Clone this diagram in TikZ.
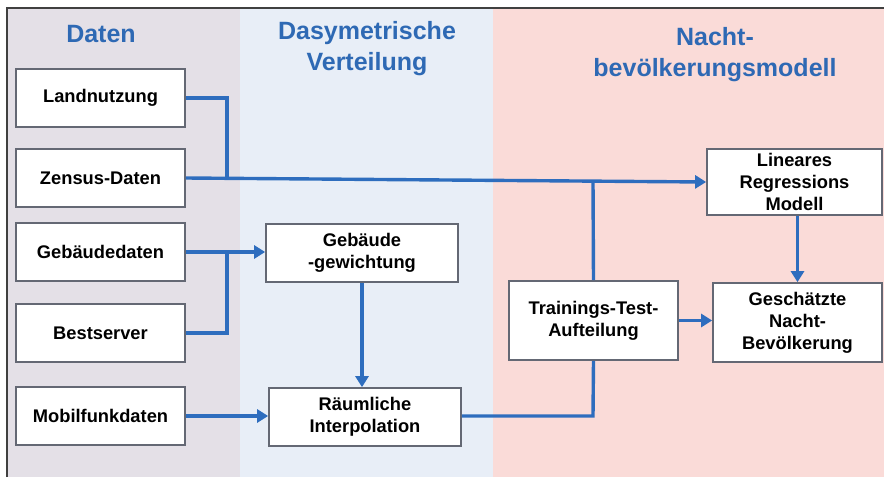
\documentclass[tikz,border=0pt]{standalone}
\usepackage{fontspec}
\setmainfont{Liberation Sans}
\usetikzlibrary{arrows.meta}
\definecolor{colA}{RGB}{228,224,231}
\definecolor{colB}{RGB}{232,238,247}
\definecolor{colC}{RGB}{250,219,216}
\definecolor{titleblue}{RGB}{46,105,180}
\definecolor{lineblue}{RGB}{46,109,190}
\definecolor{boxgray}{RGB}{100,104,116}
\tikzset{
  box/.style={draw=boxgray, line width=1.7pt, fill=white, align=center,
    font=\fontsize{18.3}{22}\selectfont\bfseries, inner sep=0pt},
  coltitle/.style={align=center, text=titleblue,
    font=\fontsize{25}{31}\selectfont\bfseries},
  conn/.style={draw=lineblue, line width=3.4pt},
  arr/.style={conn, -{Triangle[length=11pt,width=13pt]}},
}
\begin{document}
\begin{tikzpicture}[x=1pt,y=-1pt]
\useasboundingbox (0,0) rectangle (884,477);
% columns
\fill[colA] (7,8) rectangle (240,477);
\fill[colB] (240,8) rectangle (493,477);
\fill[colC] (493,8) rectangle (884,477);
\draw[black!75, line width=1.5pt] (7,477) -- (7,8) -- (884,8);
% titles
\node[coltitle] (t1) at (101,34) {Daten};
\node[coltitle] (t2) at (367,49) {Dasymetrische\\Verteilung};
\node[coltitle] (t3) at (715,55) {Nacht-\\bevölkerungsmodell};
% boxes
\node[box, minimum width=169pt, minimum height=58pt] (land) at (100.5,98) {Landnutzung};
\node[box, minimum width=169pt, minimum height=58pt] (zens) at (100.5,178) {Zensus-Daten};
\node[box, minimum width=169pt, minimum height=58pt] (gebd) at (100.5,252) {Gebäudedaten};
\node[box, minimum width=169pt, minimum height=58pt] (best) at (100.5,333) {Bestserver};
\node[box, minimum width=169pt, minimum height=58pt] (mobi) at (100.5,416) {Mobilfunkdaten};
\node[box, minimum width=192pt, minimum height=58pt] (gew) at (362,253) {Gebäude\\-gewichtung};
\node[box, minimum width=192pt, minimum height=58pt] (raum) at (365,417) {Räumliche\\Interpolation};
\node[box, minimum width=169pt, minimum height=79pt] (train) at (593.5,320.5) {Trainings-Test-\\Aufteilung};
\node[box, minimum width=175pt, minimum height=66pt] (lin) at (794.5,182) {Lineares\\Regressions\\Modell};
\node[box, minimum width=169pt, minimum height=79pt] (gesch) at (797.5,322.5) {Geschätzte\\Nacht-\\Bevölkerung};
% junction coordinates
\coordinate (j1) at (227,179);
\coordinate (j2) at (227,252);
\coordinate (j3) at (593,181);
\coordinate (j4) at (593,416);
% connectors
\draw[conn] (land.east) -| (j1);
\draw[arr] (zens.east) -- (lin.west);
\draw[conn] (train.north) -- (j3);
\draw[arr] (gebd.east) -- (gebd.east -| gew.west);
\draw[conn] (best.east) -| (j2);
\draw[arr] (gew.south) -- (gew.south |- raum.north);
\draw[arr] (mobi.east) -- (mobi.east -| raum.west);
\draw[conn] (raum.east |- j4) -- (j4) -- (train.south);
\draw[arr] (train.east) -- (train.east -| gesch.west);
\draw[arr] (lin.south -| gesch.north) -- (gesch.north);
\end{tikzpicture}
\end{document}
